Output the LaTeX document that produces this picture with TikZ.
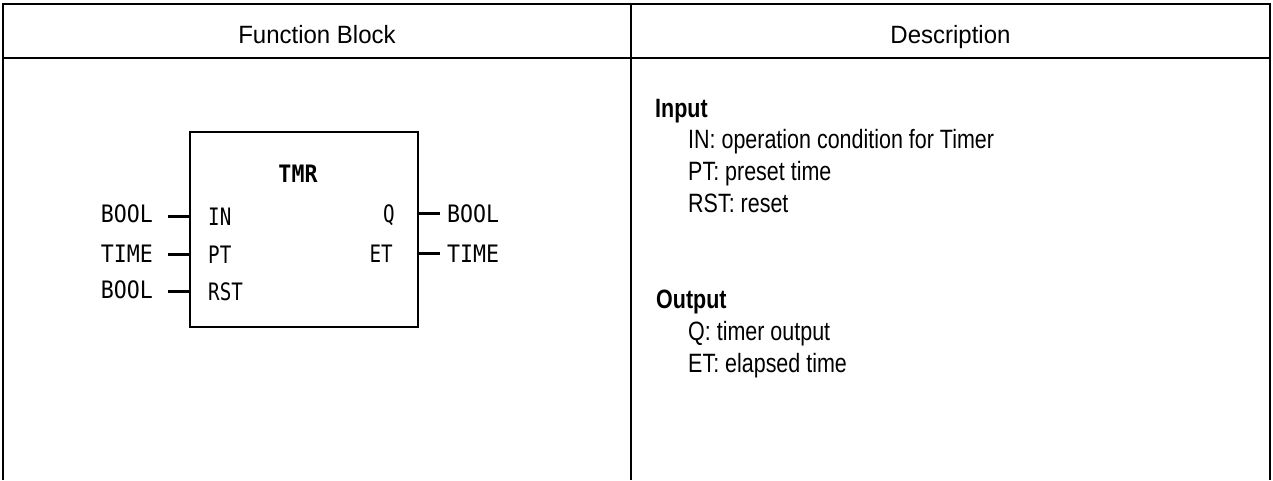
\documentclass[tikz,border=0pt]{standalone}
\usepackage{fontspec}
\setmainfont{Liberation Sans}
\newfontfamily\headfont[FakeStretch=0.96]{Liberation Sans}
\newfontfamily\descfont[FakeStretch=0.81]{Liberation Sans}
\newfontfamily\typfont[FakeStretch=0.9]{DejaVu Sans Mono}
\newfontfamily\pinfont[FakeStretch=0.8]{DejaVu Sans Mono}
\usetikzlibrary{positioning}

\tikzset{
  tbl/.style={line width=2pt},
  head/.style={font=\headfont\fontsize{25}{30}\selectfont,inner sep=0,anchor=base},
  desc/.style={font=\descfont\fontsize{26.5}{30}\selectfont,inner sep=0,anchor=base west},
  desctitle/.style={font=\descfont\bfseries\fontsize{26.5}{30}\selectfont,inner sep=0,anchor=base west},
  typ/.style={font=\typfont\fontsize{24}{28}\selectfont,inner sep=0},
  pinlbl/.style={font=\pinfont\fontsize{24}{28}\selectfont,inner sep=0},
  stub/.style={line width=3pt}
}

\begin{document}
\begin{tikzpicture}[x=1pt,y=-1pt]
\useasboundingbox (0,0) rectangle (1273,480);
% table
\draw[tbl] (3,480) |- (1270,4) -- (1270,480);
\draw[tbl] (3,58) -- (1270,58);
\draw[tbl] (631,4) -- (631,480);
\node[head] (fbhead) at (317,43) {Function Block};
\node[head] (deschead) at (950.5,43) {Description};

% function block
\node[draw,line width=2pt,minimum width=228,minimum height=195,inner sep=0] (tmr) at (304,229.5) {};
\node[typ,font=\typfont\bfseries\fontsize{24}{28}\selectfont,anchor=base] (tmrname) at (298,182) {TMR};
\node[pinlbl,anchor=base west] (in) at (208,225) {IN};
\node[pinlbl,anchor=base west] (pt) at (208,263) {PT};
\node[pinlbl,anchor=base west] (rst) at (208,300) {RST};
\node[pinlbl,anchor=base east] (q) at (395,222) {Q};
\node[pinlbl,anchor=base east] (et) at (393,262) {ET};
\node[typ,anchor=base east] (inT) at (153,222) {BOOL};
\node[typ,anchor=base east] (ptT) at (153,262) {TIME};
\node[typ,anchor=base east] (rstT) at (153,298) {BOOL};
\node[typ,anchor=base west] (qT) at (447,222) {BOOL};
\node[typ,anchor=base west] (etT) at (447,262) {TIME};
\draw[stub] (tmr.west |- in) -- ([xshift=15pt]inT.east |- in);
\draw[stub] (tmr.west |- pt) -- ([xshift=15pt]ptT.east |- pt);
\draw[stub] (tmr.west |- rst) -- ([xshift=15pt]rstT.east |- rst);
\draw[stub] (tmr.east |- qT) -- ([xshift=-7pt]qT.west);
\draw[stub] (tmr.east |- etT) -- ([xshift=-7pt]etT.west);

% description
\node[desctitle] (inhead) at (655,117) {Input};
\node[desc] (inD) at (688,148) {IN: operation condition for Timer};
\node[desc] (ptD) at (688,180) {PT: preset time};
\node[desc] (rstD) at (688,212) {RST: reset};
\node[desctitle] (outhead) at (656,308) {Output};
\node[desc] (qD) at (688,340) {Q: timer output};
\node[desc] (etD) at (688,372) {ET: elapsed time};
\end{tikzpicture}
\end{document}
